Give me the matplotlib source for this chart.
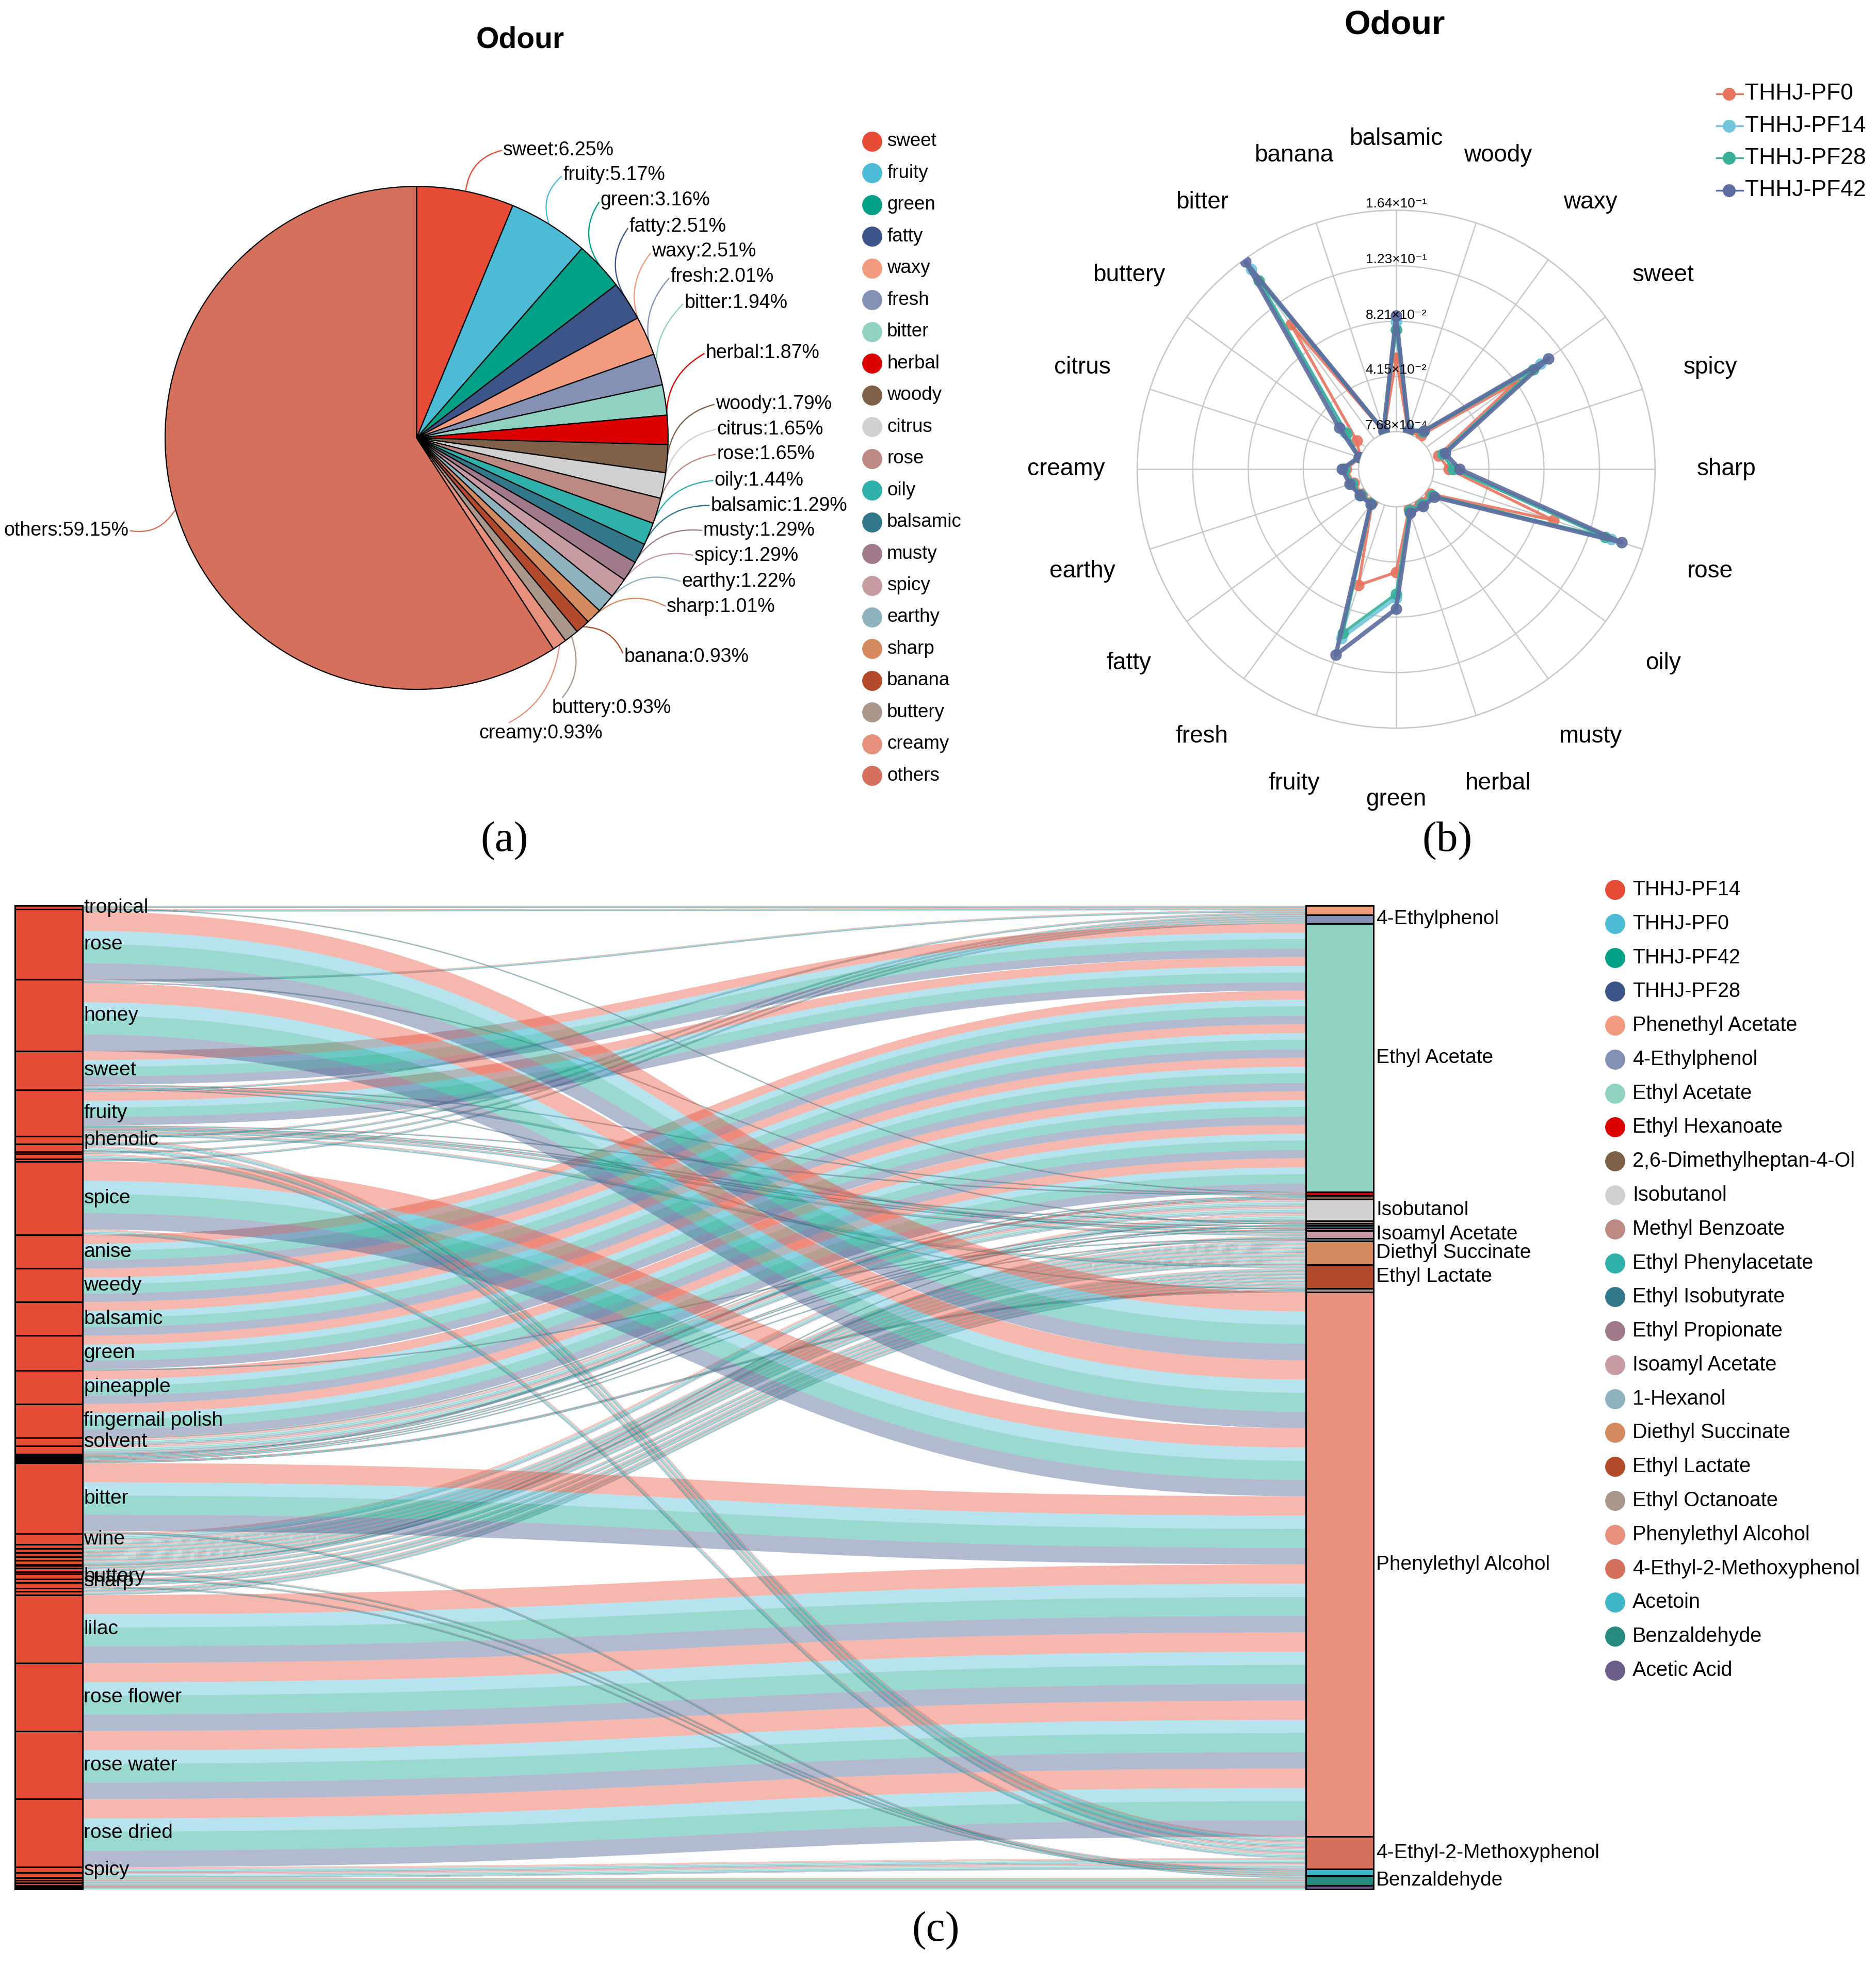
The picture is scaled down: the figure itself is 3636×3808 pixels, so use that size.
import numpy as np
import matplotlib.pyplot as plt
from matplotlib.patches import Rectangle, PathPatch
from matplotlib.path import Path

plt.rcParams['font.family'] = ['Liberation Sans', 'DejaVu Sans']

# ---------------- panel (a): odour share pie ----------------
pie_labels = ['sweet', 'fruity', 'green', 'fatty', 'waxy', 'fresh', 'bitter', 'herbal', 'woody',
              'citrus', 'rose', 'oily', 'balsamic', 'musty', 'spicy', 'earthy', 'sharp',
              'banana', 'buttery', 'creamy', 'others']
pie_pct = [6.25, 5.17, 3.16, 2.51, 2.51, 2.01, 1.94, 1.87, 1.79, 1.65, 1.65, 1.44,
           1.29, 1.29, 1.29, 1.22, 1.01, 0.93, 0.93, 0.93, 59.15]

# ---------------- panel (b): radar of odour intensity ----------------
radar_axes = ['balsamic', 'banana', 'bitter', 'buttery', 'citrus', 'creamy', 'earthy', 'fatty',
              'fresh', 'fruity', 'green', 'herbal', 'musty', 'oily', 'rose', 'sharp', 'spicy',
              'sweet', 'waxy', 'woody']
radar_names = ['THHJ-PF0', 'THHJ-PF14', 'THHJ-PF28', 'THHJ-PF42']
pf0 = [0.055, 0.002, 0.105, 0.009, 0.001, 0.010, 0.006, 0.004, 0.003, 0.063,
       0.049, 0.004, 0.003, 0.004, 0.095, 0.012, 0.006, 0.082, 0.004, 0.002]
pf14 = [0.082, 0.003, 0.155, 0.020, 0.002, 0.012, 0.008, 0.006, 0.005, 0.104,
        0.068, 0.006, 0.006, 0.007, 0.140, 0.016, 0.009, 0.105, 0.008, 0.004]
pf28 = [0.076, 0.003, 0.145, 0.018, 0.002, 0.011, 0.007, 0.005, 0.004, 0.100,
        0.065, 0.005, 0.005, 0.006, 0.135, 0.015, 0.009, 0.098, 0.007, 0.003]
pf42 = [0.086, 0.003, 0.162, 0.025, 0.002, 0.013, 0.009, 0.006, 0.005, 0.117,
        0.076, 0.007, 0.007, 0.008, 0.148, 0.020, 0.011, 0.112, 0.008, 0.003]
radar_ticks = [7.68e-4, 4.15e-2, 8.21e-2, 1.23e-1, 1.64e-1]

# ---------------- panel (c): odour -> compound sankey ----------------
sample_names = ['THHJ-PF14', 'THHJ-PF0', 'THHJ-PF42', 'THHJ-PF28']
compound_names = ['Phenethyl Acetate', '4-Ethylphenol', 'Ethyl Acetate', 'Ethyl Hexanoate',
                  '2,6-Dimethylheptan-4-Ol', 'Isobutanol', 'Methyl Benzoate',
                  'Ethyl Phenylacetate', 'Ethyl Isobutyrate', 'Ethyl Propionate',
                  'Isoamyl Acetate', '1-Hexanol', 'Diethyl Succinate', 'Ethyl Lactate',
                  'Ethyl Octanoate', 'Phenylethyl Alcohol', '4-Ethyl-2-Methoxyphenol',
                  'Acetoin', 'Benzaldehyde', 'Acetic Acid']
# relative content in PF14, PF0, PF42, PF28
compound_conc = [
    [0.50, 0.35, 0.50, 0.40],
    [0.45, 0.40, 0.50, 0.40],
    [7.20, 5.30, 7.60, 6.65],
    [0.30, 0.20, 0.28, 0.22],
    [0.28, 0.22, 0.27, 0.23],
    [1.60, 1.20, 1.55, 1.32],
    [0.28, 0.20, 0.30, 0.22],
    [0.27, 0.22, 0.29, 0.22],
    [0.26, 0.24, 0.27, 0.23],
    [0.29, 0.20, 0.28, 0.23],
    [0.55, 0.40, 0.60, 0.45],
    [0.25, 0.25, 0.27, 0.23],
    [0.88, 0.64, 0.90, 0.75],
    [0.72, 0.60, 0.75, 0.63],
    [0.28, 0.22, 0.27, 0.23],
    [15.40, 10.50, 15.20, 13.15],
    [1.20, 0.90, 1.25, 0.98],
    [0.45, 0.35, 0.48, 0.39],
    [0.55, 0.42, 0.58, 0.45],
    [0.28, 0.20, 0.30, 0.22],
]
compound_odours = [
    ['tropical', 'rose', 'honey', 'fruity'],
    ['phenolic', 'smoky', 'medicinal', 'leather'],
    ['sweet', 'fruity', 'anise', 'weedy', 'balsamic', 'green', 'pineapple', 'fingernail polish'],
    ['tropical', 'fruity', 'sweet'],
    ['solvent', 'alcoholic', 'mild'],
    ['solvent', 'ethereal', 'wine'],
    ['fruity', 'wintergreen'],
    ['honey', 'floral'],
    ['fruity', 'ethereal'],
    ['fruity', 'rum'],
    ['banana', 'sweet', 'fruity'],
    ['green', 'herbal'],
    ['wine', 'cooked apple', 'melon', 'earthy', 'caramel', 'cotton candy'],
    ['fruity', 'buttery', 'cheese', 'creamy', 'coconut', 'butterscotch', 'sharp'],
    ['sweet', 'apricot', 'brandy'],
    ['rose', 'honey', 'spice', 'bitter', 'lilac', 'rose flower', 'rose water', 'rose dried'],
    ['phenolic', 'smoky', 'clove', 'spice', 'spicy', 'bacon'],
    ['buttery', 'creamy', 'yogurt'],
    ['almond', 'cherry', 'nutty', 'bitter'],
    ['sour', 'vinegar', 'pungent'],
]
odour_order = ['tropical', 'rose', 'honey', 'sweet', 'fruity', 'phenolic', 'smoky', 'medicinal',
               'clove', 'leather', 'spice', 'anise', 'weedy', 'balsamic', 'green', 'pineapple',
               'fingernail polish', 'solvent', 'ethereal', 'alcoholic', 'mild', 'wintergreen',
               'rum', 'herbal', 'apricot', 'brandy', 'bitter', 'wine', 'cooked apple', 'melon',
               'earthy', 'caramel', 'cotton candy', 'floral', 'banana', 'cheese', 'yogurt',
               'buttery', 'sharp', 'creamy', 'coconut', 'butterscotch', 'lilac', 'rose flower',
               'rose water', 'rose dried', 'spicy', 'bacon', 'almond', 'cherry', 'nutty', 'sour',
               'vinegar', 'pungent']
odour_shown = ['tropical', 'rose', 'honey', 'sweet', 'fruity', 'phenolic', 'spice', 'anise',
               'weedy', 'balsamic', 'green', 'pineapple', 'fingernail polish', 'solvent', 'bitter',
               'wine', 'buttery', 'sharp', 'lilac', 'rose flower', 'rose water', 'rose dried',
               'spicy']
compound_shown = ['4-Ethylphenol', 'Ethyl Acetate', 'Isobutanol', 'Isoamyl Acetate',
                  'Diethyl Succinate', 'Ethyl Lactate', 'Phenylethyl Alcohol',
                  '4-Ethyl-2-Methoxyphenol', 'Benzaldehyde']

palette = ['#E64B35', '#4DBBD5', '#00A087', '#3C5488', '#F39B7F', '#8491B4', '#91D1C2',
           '#DC0000', '#7E6148', '#D0D0D0', '#BC8A82', '#2FB0AA', '#33788A', '#A07A8A',
           '#C79BA1', '#8FB2BF', '#D4895F', '#B34A2C', '#A8978A', '#E8907E', '#D4705C',
           '#3FB7C9', '#268A7F', '#6E5E8C']

# layout is in units of a 1500-wide reference frame
W, H = 1500, 1570.5


def rect(x0, y0, w, h):
    return [x0 / W, 1 - (y0 + h) / H, w / W, h / H]


fig = plt.figure(figsize=(36.37, 38.08), dpi=100)
ax0 = fig.add_axes([0, 0, 1, 1])
ax0.set_xlim(0, W)
ax0.set_ylim(H, 0)
ax0.axis('off')

# ================= (a) pie =================
pcx, pcy, pr = 333, 350, 201
ax_a = fig.add_axes(rect(pcx - pr, pcy - pr, 2 * pr, 2 * pr))
pie_colors = palette[:len(pie_pct)]
wedges, _ = ax_a.pie(pie_pct, colors=pie_colors, startangle=90, counterclock=False,
                     wedgeprops=dict(edgecolor='black', linewidth=1.6))
ax_a.set_xlim(-1, 1)
ax_a.set_ylim(-1, 1)
ax_a.axis('off')

pie_label_pos = [(402, 120), (450, 140), (480, 160), (503, 181), (521, 201), (536, 221),
                 (547, 242), (564, 282), (572, 323), (573, 343), (573, 363), (571, 384),
                 (568, 404), (562, 424), (555, 444), (545, 465), (533, 485), (499, 525),
                 (441, 566), (383, 586), (103, 424)]
for w, lab, pct, col, (lx, ly) in zip(wedges, pie_labels, pie_pct, pie_colors, pie_label_pos):
    ang = np.deg2rad((w.theta1 + w.theta2) / 2)
    left = lab == 'others'
    ax0.annotate(f'{lab}:{pct:.2f}%', xy=(np.cos(ang), np.sin(ang)), xycoords=ax_a.transData,
                 xytext=(lx, ly), textcoords='data', fontsize=27,
                 ha='right' if left else 'left', va='center',
                 arrowprops=dict(arrowstyle='-', color=col, lw=1.7, shrinkA=0, shrinkB=0,
                                 relpos=(1, 0.5) if left else (0, 0.5),
                                 connectionstyle='arc3,rad=0.35'))

for i, (lab, col) in enumerate(zip(pie_labels, pie_colors)):
    y = 113 + 25.35 * i
    ax0.plot(697, y, 'o', ms=28, color=col, mec='none')
    ax0.text(709, y, lab, fontsize=26.5, va='center')

ax0.text(416, 32, 'Odour', fontsize=41, fontweight='bold', ha='center', va='center')
ax0.text(403, 672, '(a)', fontsize=60, family='Liberation Serif', ha='center', va='center')

# ================= (b) radar =================
rcx, rcy, rr = 1116, 375, 207
ax_b = fig.add_axes(rect(rcx - rr, rcy - rr, 2 * rr, 2 * rr), projection='polar')
ax_b.set_theta_zero_location('N')
ax_b.set_theta_direction(1)
theta = np.arange(len(radar_axes)) * 2 * np.pi / len(radar_axes)
rmin, rmax = radar_ticks[0], radar_ticks[-1]
hole = 30 / rr
r0 = (rmin - hole * rmax) / (1 - hole)
ax_b.set_rlim(rmin, rmax)
ax_b.set_rorigin(r0)
ax_b.set_xticks(theta)
ax_b.set_xticklabels([])
ax_b.set_yticks(radar_ticks)
ax_b.set_yticklabels([])
ax_b.grid(True, color='#c8c8c8', lw=1.8)
for sp in ax_b.spines.values():
    sp.set_color('#c8c8c8')
    sp.set_linewidth(1.8)

radar_colors = ['#E8735F', '#72C5DC', '#3AB09B', '#5C6C9E']
radar_lw = [4.0, 5.0, 4.0, 6.0]
for vals, col, lw in zip([pf0, pf14, pf28, pf42], radar_colors, radar_lw):
    t = np.append(theta, theta[0])
    v = np.append(vals, vals[0])
    ax_b.plot(t, v, '-o', color=col, lw=lw, ms=15, alpha=0.9, zorder=3)

sup = str.maketrans('-0123456789', '⁻⁰¹²³⁴⁵⁶⁷⁸⁹')
for v in radar_ticks:
    e = int(np.floor(np.log10(v)))
    txt = f'{v / 10 ** e:.2f}×10' + str(e).translate(sup)
    ax_b.text(0, v, txt, fontsize=19, ha='center', va='bottom', zorder=5)

r_lab = r0 + 1.275 * (rmax - r0)
for t, name in zip(theta, radar_axes):
    ax_b.text(t, r_lab, name, fontsize=33, ha='center', va='center')

for i, (name, col) in enumerate(zip(radar_names, radar_colors)):
    y = 75 + 25.7 * i
    ax0.plot([1372, 1393], [y, y], color=col, lw=2.5)
    ax0.plot(1382, y, 'o', ms=18, color=col, mec='none')
    ax0.text(1395, y, name, fontsize=32, va='center')

ax0.text(1115, 20, 'Odour', fontsize=47, fontweight='bold', ha='center', va='center')
ax0.text(1157, 672, '(b)', fontsize=60, family='Liberation Serif', ha='center', va='center')

# ================= (c) sankey =================
xl0, xl1 = 12, 66
xr0, xr1 = 1044, 1098
y_top, y_bot = 724, 1510

links = []
for ci, (vals, ods) in enumerate(zip(compound_conc, compound_odours)):
    for od in ods:
        oi = odour_order.index(od)
        for si, v in enumerate(vals):
            links.append((oi, ci, si, v))

left_tot = np.zeros(len(odour_order))
right_tot = np.zeros(len(compound_names))
for oi, ci, si, v in links:
    left_tot[oi] += v
    right_tot[ci] += v
k = (y_bot - y_top) / left_tot.sum()
left_start = y_top + k * np.concatenate([[0], np.cumsum(left_tot)[:-1]])
right_start = y_top + k * np.concatenate([[0], np.cumsum(right_tot)[:-1]])

lcur = left_start.copy()
rcur = right_start.copy()
ys = {}
yt = {}
for i in sorted(range(len(links)), key=lambda j: (links[j][0], links[j][1], links[j][2])):
    oi = links[i][0]
    ys[i] = lcur[oi]
    lcur[oi] += links[i][3] * k
for i in sorted(range(len(links)), key=lambda j: (links[j][1], links[j][0], links[j][2])):
    ci = links[i][1]
    yt[i] = rcur[ci]
    rcur[ci] += links[i][3] * k

codes = [Path.MOVETO, Path.CURVE4, Path.CURVE4, Path.CURVE4, Path.LINETO,
         Path.CURVE4, Path.CURVE4, Path.CURVE4, Path.CLOSEPOLY]
xm = (xl1 + xr0) / 2
for i, (oi, ci, si, v) in enumerate(links):
    h = v * k
    a0, b0 = ys[i], yt[i]
    a1, b1 = a0 + h, b0 + h
    verts = [(xl1, a0), (xm, a0), (xm, b0), (xr0, b0), (xr0, b1), (xm, b1), (xm, a1),
             (xl1, a1), (xl1, a0)]
    thin = h < 2
    ax0.add_patch(PathPatch(Path(verts, codes), facecolor=palette[si],
                            alpha=0.3 if thin else 0.4,
                            edgecolor=palette[si] if thin else 'none',
                            lw=0.3 if thin else 0, zorder=1))

for oi, name in enumerate(odour_order):
    ax0.add_patch(Rectangle((xl0, left_start[oi]), xl1 - xl0, left_tot[oi] * k,
                            facecolor=palette[0], edgecolor='black', lw=2.2, zorder=3))
    if name in odour_shown:
        ax0.text(xl1 + 1, left_start[oi] + left_tot[oi] * k / 2, name, fontsize=28,
                 va='center', ha='left', zorder=4)
for ci, name in enumerate(compound_names):
    ax0.add_patch(Rectangle((xr0, right_start[ci]), xr1 - xr0, right_tot[ci] * k,
                            facecolor=palette[4 + ci], edgecolor='black', lw=2.2, zorder=3))
    if name in compound_shown:
        ax0.text(xr1 + 2, right_start[ci] + right_tot[ci] * k / 2, name, fontsize=28,
                 va='center', ha='left', zorder=4)

for i, name in enumerate(sample_names + compound_names):
    y = 711 + 27.13 * i
    ax0.plot(1291, y, 'o', ms=28, color=palette[i], mec='none')
    ax0.text(1305, y, name, fontsize=28.5, va='center')

ax0.text(748, 1543, '(c)', fontsize=60, family='Liberation Serif', ha='center', va='center')

fig.savefig('out.png', dpi=100, facecolor='white')
